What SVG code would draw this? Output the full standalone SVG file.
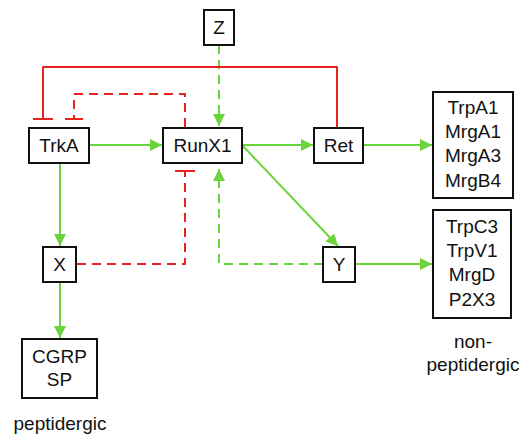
<svg xmlns="http://www.w3.org/2000/svg" width="522" height="435" viewBox="0 0 522 435">
<defs>
<style>
.box{fill:#fff;stroke:#111;stroke-width:2}
text{font-family:"Liberation Sans",Arial,sans-serif;font-size:19px;fill:#111;text-anchor:middle}
.lbl{font-size:19px}
.g{fill:none;stroke:#6ad43c;stroke-width:2}
.r{fill:none;stroke:#e8231e;stroke-width:2;stroke-linejoin:round}
.d{stroke-dasharray:9 6}
</style>
<marker id="ah" viewBox="0 0 10 10" refX="10" refY="5" markerWidth="6" markerHeight="6" orient="auto" markerUnits="strokeWidth">
<path d="M0,0 L10,5 L0,10 z" fill="#6ad43c"/>
</marker>
</defs>
<g id="connectors">
<line class="g" x1="89" y1="145" x2="162" y2="145" marker-end="url(#ah)"/>
<line class="g" x1="242" y1="145" x2="313" y2="145" marker-end="url(#ah)"/>
<line class="g" x1="363" y1="145" x2="432" y2="145" marker-end="url(#ah)"/>
<line class="g" x1="242" y1="145" x2="338" y2="246" marker-end="url(#ah)"/>
<line class="g" x1="60" y1="163" x2="60" y2="246" marker-end="url(#ah)"/>
<line class="g" x1="60" y1="282" x2="60" y2="338" marker-end="url(#ah)"/>
<line class="g" x1="355" y1="264" x2="432" y2="264" marker-end="url(#ah)"/>
<line class="g d" x1="219" y1="45" x2="219" y2="126" marker-end="url(#ah)"/>
<polyline class="g d" points="323,264 219,264 219,169" marker-end="url(#ah)"/>
<polyline class="r" points="337,127 337,67 43,67 43,119"/>
<line class="r" x1="33" y1="119" x2="53" y2="119"/>
<polyline class="r d" points="185,127 185,94 74,94 74,119"/>
<line class="r" x1="65" y1="119" x2="83" y2="119"/>
<polyline class="r d" points="77,264 185,264 185,171"/>
<line class="r" x1="175" y1="171" x2="195" y2="171"/>
</g>
<g id="node-Z"><rect class="box" x="204" y="10" width="30" height="35"/><text x="219" y="34">Z</text></g>
<g id="node-TrkA"><rect class="box" x="29" y="128" width="60" height="35"/><text x="59" y="152">TrkA</text></g>
<g id="node-RunX1"><rect class="box" x="163" y="128" width="79" height="35"/><text x="202.5" y="152">RunX1</text></g>
<g id="node-Ret"><rect class="box" x="314" y="128" width="49" height="35"/><text x="338.5" y="152">Ret</text></g>
<g id="node-X"><rect class="box" x="43" y="247" width="33" height="35"/><text x="59.5" y="271">X</text></g>
<g id="node-Y"><rect class="box" x="323" y="247" width="32" height="35"/><text x="339" y="271">Y</text></g>
<g id="node-TrpA1"><rect class="box" x="433" y="92" width="80" height="106"/>
<text x="473" y="114">TrpA1</text><text x="473" y="138">MrgA1</text><text x="473" y="162">MrgA3</text><text x="473" y="187">MrgB4</text></g>
<g id="node-TrpC3"><rect class="box" x="433" y="210" width="78" height="108"/>
<text x="472" y="233">TrpC3</text><text x="472" y="257">TrpV1</text><text x="472" y="281">MrgD</text><text x="472" y="306">P2X3</text></g>
<g id="node-CGRP"><rect class="box" x="22" y="339" width="75" height="59"/>
<text x="59.5" y="363">CGRP</text><text x="59.5" y="386">SP</text></g>
<text class="lbl" x="60" y="430">peptidergic</text>
<text class="lbl" x="473" y="348">non-</text>
<text class="lbl" x="473" y="371">peptidergic</text>
</svg>
